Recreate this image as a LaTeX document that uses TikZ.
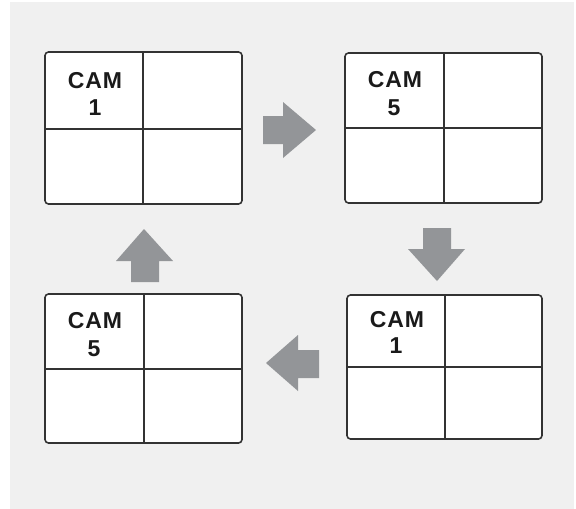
\documentclass[tikz,border=0pt]{standalone}
\usepackage{fontspec}
\setmainfont{Liberation Sans}
\begin{document}
\begin{tikzpicture}[x=1pt,y=-1pt]
\definecolor{bgc}{HTML}{F0F0F0}
\definecolor{arrc}{HTML}{939598}
\definecolor{linec}{HTML}{333333}
\definecolor{txtc}{HTML}{1A1A1A}
\tikzset{
  screen/.style={draw=linec, line width=1.6pt, fill=white, rounded corners=3.5pt},
  divider/.style={draw=linec, line width=1.6pt},
  camtxt/.style={anchor=base, inner sep=0pt, text=txtc, font=\fontsize{23}{27}\selectfont\bfseries\addfontfeatures{LetterSpace=4}},
  blockarrow/.style={fill=arrc, draw=none}
}
\useasboundingbox (0,0) rectangle (576,509);
\fill[bgc] (10,2) rectangle (574,509);

% screen 1 (top left)
\coordinate (s1a) at (45,52); \coordinate (s1b) at (242,204);
\draw[screen] (s1a) rectangle (s1b);
\draw[divider] (143,52) -- (143,204);
\draw[divider] (45,129) -- (242,129);
\node[camtxt] (s1cam) at (95,88) {CAM};
\node[camtxt] (s1num) at (95,115) {1};

% screen 2 (top right)
\coordinate (s2a) at (345,53); \coordinate (s2b) at (542,203);
\draw[screen] (s2a) rectangle (s2b);
\draw[divider] (444,53) -- (444,203);
\draw[divider] (345,128) -- (542,128);
\node[camtxt] (s2cam) at (395,87) {CAM};
\node[camtxt] (s2num) at (394,115) {5};

% screen 3 (bottom left)
\coordinate (s3a) at (45,294); \coordinate (s3b) at (242,443);
\draw[screen] (s3a) rectangle (s3b);
\draw[divider] (144,294) -- (144,443);
\draw[divider] (45,369) -- (242,369);
\node[camtxt] (s3cam) at (95,328) {CAM};
\node[camtxt] (s3num) at (94,356) {5};

% screen 4 (bottom right)
\coordinate (s4a) at (347,295); \coordinate (s4b) at (542,439);
\draw[screen] (s4a) rectangle (s4b);
\draw[divider] (445,295) -- (445,439);
\draw[divider] (347,367) -- (542,367);
\node[camtxt] (s4cam) at (397,327) {CAM};
\node[camtxt] (s4num) at (396,353) {1};

% block arrows
\fill[blockarrow] (263,116) -- (283,116) -- (283,102) -- (316,130) -- (283,158) -- (283,144) -- (263,144) -- cycle;
\fill[blockarrow] (423,228) -- (451,228) -- (451,249) -- (465,249) -- (437,281) -- (408,249) -- (423,249) -- cycle;
\fill[blockarrow] (319,350) -- (298,350) -- (298,335) -- (266,363) -- (298,391) -- (298,378) -- (319,378) -- cycle;
\fill[blockarrow] (131,282) -- (159,282) -- (159,261) -- (173,261) -- (144,229) -- (116,261) -- (131,261) -- cycle;
\end{tikzpicture}
\end{document}
